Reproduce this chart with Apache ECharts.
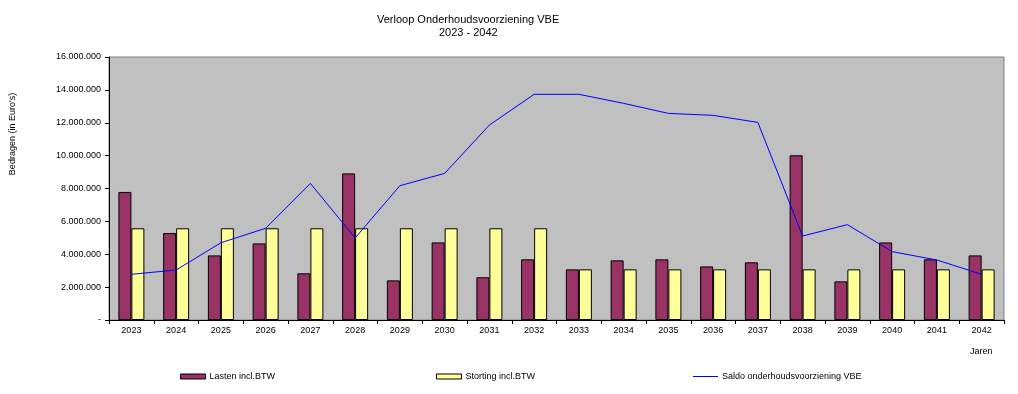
<!DOCTYPE html>
<html>
<head>
<meta charset="utf-8">
<script src="https://cdn.jsdelivr.net/npm/echarts@6/dist/echarts.min.js"></script>
<style>
html,body{margin:0;padding:0;background:#fff;}
#c{width:1018px;height:394px;}
</style>
</head>
<body>
<div id="c"></div>
<script>
const years = ['2023','2024','2025','2026','2027','2028','2029','2030','2031','2032','2033','2034','2035','2036','2037','2038','2039','2040','2041','2042'];
const lasten = [7790000,5290000,3930000,4660000,2840000,8920000,2410000,4720000,2600000,3690000,3080000,3630000,3690000,3260000,3510000,10020000,2350000,4720000,3690000,3930000];
const storting = [5580000,5580000,5580000,5580000,5580000,5580000,5580000,5580000,5580000,5580000,3080000,3080000,3080000,3080000,3080000,3080000,3080000,3080000,3080000,3080000];
const saldo = [2780000,3040000,4700000,5580000,8310000,4990000,8170000,8920000,11860000,13730000,13730000,13180000,12570000,12450000,12020000,5110000,5800000,4160000,3650000,2780000];
const seriesNames = ['Lasten incl.BTW','Storting incl.BTW','Saldo onderhoudsvoorziening VBE'];
const titleLines = ['Verloop Onderhoudsvoorziening VBE','2023 - 2042'];
const yAxisName = "Bedragen (in Euro's)";
const xAxisName = 'Jaren';

function fmt(v){
  if(v===0) return '-';
  return String(v).replace(/\B(?=(\d{3})+(?!\d))/g,'.');
}
const font = 'Liberation Sans, Arial, sans-serif';
const legendText = {fontSize:9,fontFamily:font,color:'#000',padding:[0,0,0,-1]};
const chart = echarts.init(document.getElementById('c'));
chart.setOption({
  animation:false,
  backgroundColor:'#ffffff',
  textStyle:{fontFamily:font},
  grid:{left:109,right:14,top:57,bottom:74,show:true,backgroundColor:'#c0c0c0',borderColor:'#808080',borderWidth:1},
  graphic:[
    {type:'text',left:377,top:14,style:{text:titleLines[0],font:'11px '+font,fill:'#000'}},
    {type:'text',left:439,top:27,style:{text:titleLines[1],font:'11px '+font,fill:'#000'}},
    {type:'text',x:8,y:134,rotation:Math.PI/2,style:{text:yAxisName,font:'9px '+font,fill:'#000',align:'center',verticalAlign:'top'}},
    {type:'text',left:970,top:347,style:{text:xAxisName,font:'9px '+font,fill:'#000'}}
  ],
  legend:[
    {left:180,top:372,padding:0,icon:'rect',itemWidth:25,itemHeight:5,itemGap:0,textStyle:legendText,
     itemStyle:{borderColor:'#000',borderWidth:1},data:[seriesNames[0]]},
    {left:436,top:372,padding:0,icon:'rect',itemWidth:25,itemHeight:5,itemGap:0,textStyle:legendText,
     itemStyle:{borderColor:'#000',borderWidth:1},data:[seriesNames[1]]},
    {left:693,top:372,padding:0,icon:'rect',itemWidth:25,itemHeight:1,itemGap:0,textStyle:legendText,
     itemStyle:{color:'#0000ff',borderWidth:0},data:[seriesNames[2]]}
  ],
  xAxis:{
    type:'category',data:years,boundaryGap:true,
    axisLine:{lineStyle:{color:'#000',width:1}},
    axisTick:{show:true,length:4,inside:false,alignWithLabel:false,lineStyle:{color:'#000'}},
    axisLabel:{color:'#000',fontSize:9,fontFamily:font,margin:6,interval:0}
  },
  yAxis:{
    type:'value',min:0,max:16000000,interval:2000000,
    axisLine:{show:true,lineStyle:{color:'#000',width:1}},
    axisTick:{show:true,length:4,lineStyle:{color:'#000'}},
    splitLine:{show:false},
    axisLabel:{color:'#000',fontSize:9,fontFamily:font,margin:8,formatter:fmt}
  },
  series:[
    {name:seriesNames[0],type:'bar',data:lasten,barWidth:13,barGap:'0%',itemStyle:{color:'#993366',borderColor:'#000',borderWidth:1}},
    {name:seriesNames[1],type:'bar',data:storting,barWidth:13,barGap:'0%',itemStyle:{color:'#ffff99',borderColor:'#000',borderWidth:1}},
    {name:seriesNames[2],type:'line',data:saldo,symbol:'none',z:5,lineStyle:{color:'#0000ff',width:1},itemStyle:{color:'#0000ff'}}
  ]
});
</script>
</body>
</html>
